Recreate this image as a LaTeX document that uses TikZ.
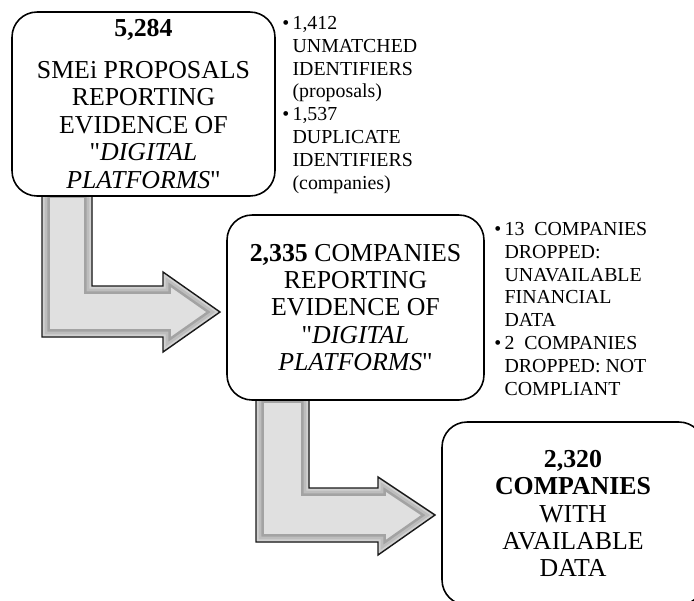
\documentclass[tikz,border=0pt]{standalone}
\usepackage{fontspec}
\setmainfont{Liberation Serif}
\usetikzlibrary{positioning, calc}

% grey block arrow with a soft bevelled rim
\newcommand{\bevelarrow}[1]{%
  \begin{scope}
    \clip #1;
    \fill[gray!24] #1;
    \draw[gray!72, line width=9pt] #1;
    \draw[gray!52, line width=6pt] #1;
    \draw[gray!36, line width=3pt] #1;
  \end{scope}
  \draw[black!90, line width=0.8pt] #1;
}

\begin{document}
\begin{tikzpicture}[x=0.02cm, y=-0.02cm,
  stagebox/.style={draw, line width=0.9pt, rounded corners=0.5cm, fill=white,
    align=center, inner sep=0pt, font=\fontsize{14.7}{15.6}\selectfont},
  notelist/.style={anchor=north west, inner sep=0pt, align=left,
    font=\fontsize{11.3}{13}\selectfont}]
  \useasboundingbox (0,0) rectangle (694,600);
  \clip (0,0) rectangle (694,600);

  % arrows first, boxes on top
  \bevelarrow{(42,190) -- (92,190) -- (92,286) -- (163,286) -- (163,272) -- (220,312) -- (163,352) -- (163,337) -- (42,337) -- cycle}
  \bevelarrow{(256,395) -- (309,395) -- (309,488) -- (378,488) -- (378,477) -- (435,515) -- (378,555) -- (378,542) -- (256,542) -- cycle}

  \node[stagebox, minimum width=5.26cm, minimum height=3.68cm] (proposals) at (143.5,104)
    {\textbf{5,284}\\[8pt]SMEi PROPOSALS\\REPORTING\\EVIDENCE OF\\\textquotedbl\textit{DIGITAL}\\\textit{PLATFORMS}\textquotedbl};
  \node[stagebox, minimum width=5.14cm, minimum height=3.7cm] (companies) at (355.5,307.5)
    {\textbf{2,335} COMPANIES\\REPORTING\\EVIDENCE OF\\\textquotedbl\textit{DIGITAL}\\\textit{PLATFORMS}\textquotedbl};
  \node[stagebox, minimum width=5.24cm, minimum height=3.66cm] (available) at (573,513.5)
    {\textbf{2,320}\\\textbf{COMPANIES}\\WITH\\AVAILABLE\\DATA};

  \node[notelist] (dropsone) at (282,13)
    {\begin{tabular}{@{}l@{\,}l@{}}
      \textbullet & 1,412\\ & UNMATCHED\\ & IDENTIFIERS\\ & (proposals)\\
      \textbullet & 1,537\\ & DUPLICATE\\ & IDENTIFIERS\\ & (companies)
    \end{tabular}};
  \node[notelist] (dropstwo) at (494,219)
    {\begin{tabular}{@{}l@{\,}l@{}}
      \textbullet & 13\enspace COMPANIES\\ & DROPPED:\\ & UNAVAILABLE\\ & FINANCIAL\\ & DATA\\
      \textbullet & 2\enspace COMPANIES\\ & DROPPED: NOT\\ & COMPLIANT
    \end{tabular}};
\end{tikzpicture}
\end{document}
